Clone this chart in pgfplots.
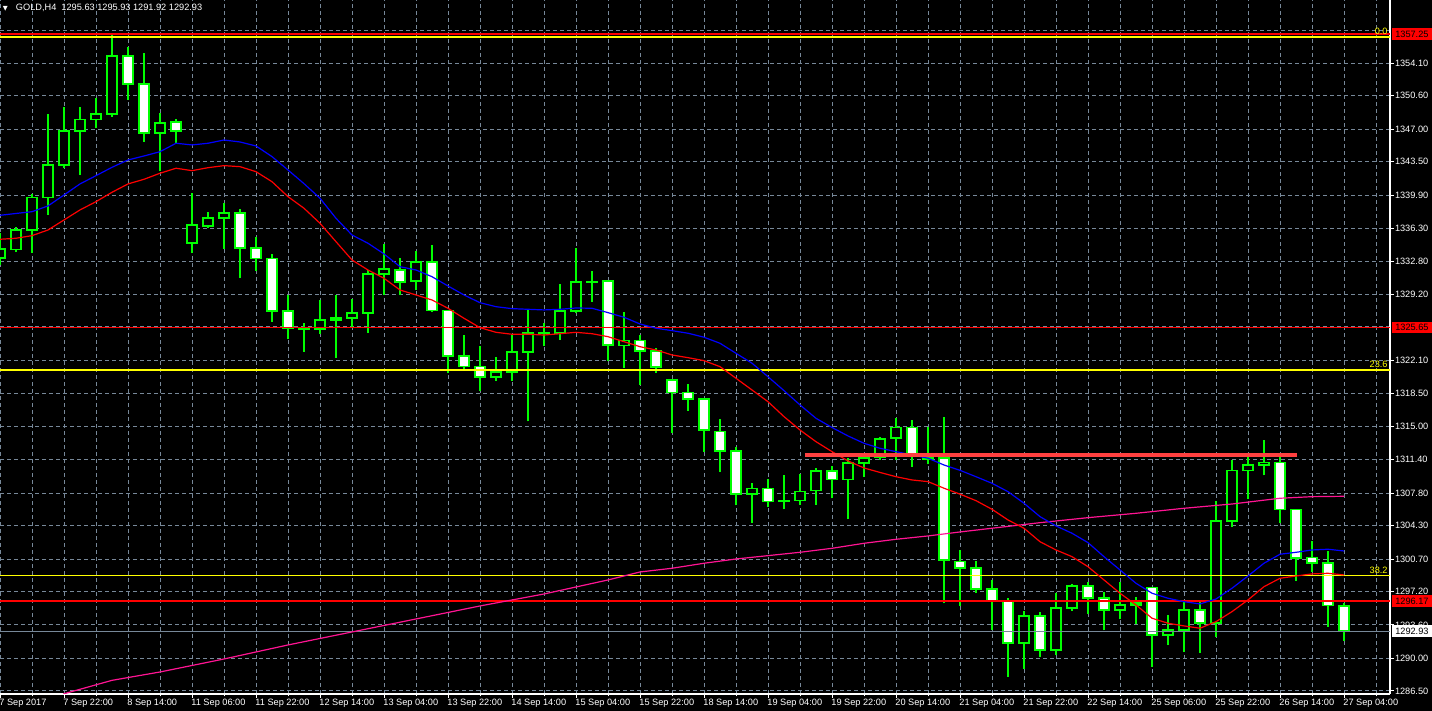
\documentclass[border=0pt]{standalone}
\usepackage{pgfplots}
\pgfplotsset{compat=1.18}
\usepackage{pgfplotstable}
\usepackage{fontspec}
\setmainfont{Liberation Sans}
\newfontfamily\djv{DejaVu Sans}
\definecolor{cgreen}{RGB}{0,255,0}
\definecolor{gridgray}{RGB}{119,136,153}
\definecolor{mapink}{RGB}{255,20,147}
\definecolor{trendred}{RGB}{255,64,64}
\definecolor{fibyellow}{RGB}{255,255,0}
\newcommand{\tickfont}{\fontsize{4.6}{5}\selectfont}

% H4 candles: bar index, open, high, low, close
\pgfplotstableread{
x o h l c
0 1333.13 1335.85 1332.34 1334.10
1 1334.02 1336.43 1333.80 1336.11
2 1336.11 1339.99 1333.66 1339.66
3 1339.66 1348.63 1337.79 1343.11
4 1343.11 1349.36 1342.79 1346.77
5 1346.77 1349.36 1342.10 1348.06
6 1348.06 1350.39 1347.16 1348.60
7 1348.60 1357.25 1348.34 1354.85
8 1354.85 1355.82 1350.14 1351.83
9 1351.83 1355.17 1345.65 1346.56
10 1346.56 1348.71 1342.50 1347.63
11 1347.74 1348.10 1345.48 1346.77
12 1334.71 1340.09 1333.63 1336.65
13 1336.60 1338.11 1336.39 1337.40
14 1337.40 1339.02 1334.13 1337.94
15 1337.94 1338.40 1331.00 1334.17
16 1334.17 1335.39 1331.73 1333.09
17 1333.09 1333.56 1326.27 1327.39
18 1327.39 1329.14 1324.37 1325.59
19 1325.56 1326.09 1323.04 1325.48
20 1325.45 1328.60 1324.94 1326.42
21 1326.42 1329.14 1322.39 1326.63
22 1326.63 1328.68 1325.56 1327.17
23 1327.17 1331.83 1325.08 1331.37
24 1331.37 1334.63 1329.14 1331.91
25 1331.80 1333.09 1329.14 1330.51
26 1330.62 1333.88 1329.71 1332.70
27 1332.70 1334.53 1327.34 1327.49
28 1327.49 1327.55 1320.71 1322.54
29 1322.54 1324.83 1321.07 1321.46
30 1321.46 1323.65 1318.84 1320.28
31 1320.28 1322.47 1319.91 1320.82
32 1320.82 1324.91 1319.91 1322.97
33 1322.97 1327.53 1315.54 1325.02
34 1324.99 1326.09 1323.68 1325.05
35 1325.02 1330.29 1324.33 1327.39
36 1327.39 1334.24 1327.17 1330.51
37 1330.52 1331.73 1328.42 1330.60
38 1330.62 1330.76 1322.03 1323.76
39 1323.72 1327.28 1321.31 1324.26
40 1324.26 1324.83 1319.45 1323.08
41 1323.08 1323.40 1320.77 1321.36
42 1319.96 1320.00 1314.25 1318.62
43 1318.66 1319.56 1316.68 1317.91
44 1317.91 1317.95 1312.27 1314.57
45 1314.46 1315.79 1310.11 1312.31
46 1312.31 1312.74 1306.49 1307.68
47 1307.68 1308.86 1304.56 1308.32
48 1308.32 1309.29 1306.34 1306.92
49 1306.95 1309.76 1306.06 1307.02
50 1306.99 1309.83 1306.53 1307.96
51 1308.07 1310.51 1306.56 1310.16
52 1310.16 1310.73 1307.25 1309.29
53 1309.29 1311.59 1304.97 1311.02
54 1311.02 1311.80 1309.57 1311.56
55 1311.66 1313.88 1311.37 1313.60
56 1313.71 1315.93 1311.37 1314.89
57 1314.89 1315.68 1310.65 1311.73
58 1311.48 1314.96 1310.91 1311.70
59 1311.56 1316.00 1295.94 1300.57
60 1300.46 1301.68 1295.63 1299.71
61 1299.71 1300.50 1297.05 1297.45
62 1297.45 1298.45 1293.07 1296.16
63 1296.16 1296.48 1288.04 1291.63
64 1291.63 1295.11 1288.90 1294.54
65 1294.54 1295.00 1290.13 1290.88
66 1290.88 1297.05 1290.34 1295.40
67 1295.40 1298.05 1295.11 1297.77
68 1297.77 1298.20 1294.82 1296.48
69 1296.48 1297.19 1293.03 1295.19
70 1295.19 1298.20 1294.22 1295.73
71 1295.94 1296.59 1293.68 1295.73
72 1297.66 1297.70 1289.05 1292.50
73 1292.50 1294.65 1291.42 1293.03
74 1293.03 1296.05 1290.73 1295.19
75 1295.19 1296.05 1290.62 1293.79
76 1293.79 1306.92 1292.28 1304.77
77 1304.77 1311.34 1304.12 1310.26
78 1310.26 1312.09 1307.14 1310.80
79 1310.80 1313.49 1309.72 1311.12
80 1311.12 1311.73 1304.56 1306.06
81 1306.06 1306.10 1298.37 1300.79
82 1300.89 1302.68 1299.34 1300.25
83 1300.25 1301.54 1293.42 1295.70
84 1295.63 1295.93 1291.92 1292.93
}\candles

% blue moving average
\pgfplotstableread{
x p
0 1337.72
1 1337.92
2 1338.11
3 1338.73
4 1339.91
5 1341.10
6 1341.99
7 1342.89
8 1343.68
9 1344.11
10 1344.57
11 1345.48
12 1345.30
13 1345.48
14 1345.83
15 1345.62
16 1345.19
17 1344.04
18 1342.60
19 1341.13
20 1339.56
21 1337.40
22 1335.60
23 1334.71
24 1333.56
25 1332.19
26 1331.83
27 1331.11
28 1330.11
29 1329.14
30 1328.31
31 1327.88
32 1327.67
33 1327.60
34 1327.53
35 1327.60
36 1327.74
37 1327.71
38 1327.24
39 1326.74
40 1326.02
41 1325.56
42 1325.30
43 1325.02
44 1324.59
45 1323.94
46 1322.86
47 1321.79
48 1320.34
49 1318.84
50 1317.30
51 1315.86
52 1314.87
53 1313.96
54 1313.17
55 1312.63
56 1312.27
57 1311.91
58 1311.56
59 1310.83
60 1310.26
61 1309.57
62 1308.86
63 1307.96
64 1306.71
65 1305.27
66 1304.27
67 1303.48
68 1302.47
69 1300.96
70 1299.53
71 1298.09
72 1297.02
73 1296.48
74 1296.11
75 1295.87
76 1296.40
77 1297.56
78 1298.88
79 1300.25
80 1301.22
81 1301.43
82 1301.68
83 1301.76
84 1301.57
}\mablue

% red moving average
\pgfplotstableread{
x p
0 1335.14
1 1335.25
2 1335.53
3 1336.14
4 1337.22
5 1338.30
6 1339.19
7 1340.20
8 1341.10
9 1341.60
10 1342.25
11 1342.79
12 1342.53
13 1342.85
14 1343.07
15 1342.96
16 1342.42
17 1341.34
18 1339.73
19 1338.48
20 1336.86
21 1334.88
22 1332.91
23 1331.83
24 1330.94
25 1329.68
26 1329.14
27 1328.60
28 1327.71
29 1326.63
30 1325.62
31 1325.12
32 1324.91
33 1324.91
34 1324.83
35 1324.97
36 1325.12
37 1324.97
38 1324.65
39 1324.11
40 1323.57
41 1323.22
42 1322.68
43 1322.39
44 1322.07
45 1321.42
46 1320.17
47 1318.91
48 1317.65
49 1316.04
50 1314.60
51 1313.34
52 1312.27
53 1311.27
54 1310.51
55 1310.03
56 1309.57
57 1309.22
58 1309.04
59 1308.33
60 1307.69
61 1306.99
62 1306.06
63 1304.91
64 1304.02
65 1302.57
66 1301.68
67 1300.96
68 1299.88
69 1298.45
70 1297.02
71 1295.76
72 1294.33
73 1293.79
74 1293.50
75 1293.25
76 1293.96
77 1295.04
78 1296.30
79 1297.73
80 1298.63
81 1298.88
82 1299.10
83 1299.17
84 1298.99
}\mared

% pink (slow) moving average
\pgfplotstableread{
x p
3.95 1286.17
7 1287.64
10 1288.54
14 1289.94
18 1291.45
22 1292.85
26 1294.25
30 1295.65
34 1296.94
38 1298.45
40 1299.31
42 1299.71
44 1300.25
46 1300.71
48 1301.07
50 1301.43
52 1301.86
54 1302.40
56 1302.83
58 1303.19
60 1303.62
62 1304.02
65 1304.62
68 1305.16
71 1305.63
74 1306.17
77 1306.63
80 1307.25
82 1307.42
84 1307.46
}\mapink

\pgfplotsset{common/.style={
  scale only axis, width=695pt, height=347pt,
  at={(0pt,8.5pt)}, anchor=south west,
  xmin=0, xmax=86.875, ymin=1286.17, ymax=1360.91,
}}
\def\yticks{1286.50,1290.00,1293.60,1297.20,1300.70,1304.30,1307.80,1311.40,1315.00,1318.50,1322.10,1325.70,1329.20,1332.80,1336.30,1339.90,1343.50,1347.00,1350.60,1354.10,1357.60}

\begin{document}
\begin{tikzpicture}
\fill[black] (0,0) rectangle (716pt,355.5pt);
\path[use as bounding box] (0,0) rectangle (716pt,355.5pt);

% layer 1: grid and wicks
\begin{axis}[common, axis line style={draw=none}, major tick length=0pt,
  xtick={0,2,...,86}, ytick=\yticks, xticklabel=\relax, yticklabel=\relax,
  grid=major, major grid style={gridgray, line width=0.5pt, dash pattern=on 2pt off 1.5pt}]
\addplot[draw=none, mark=none, error bars/.cd, y dir=plus, y explicit, error mark=none,
  error bar style={draw=cgreen, line width=0.8pt}]
  table[x=x, y=l, y error plus expr=\thisrow{h}-\thisrow{l}] {\candles};
\end{axis}

% layer 2: candle bodies
\begin{axis}[common, hide axis, ybar stacked, bar width=0.62]
\addplot[draw=none, fill=none] table[x=x, y expr={min(\thisrow{o},\thisrow{c})}] {\candles};
\addplot[draw=cgreen, line width=0.8pt, fill=black] table[x=x, y expr={max(\thisrow{c}-\thisrow{o},0)}] {\candles};
\addplot[draw=cgreen, line width=0.8pt, fill=white] table[x=x, y expr={max(\thisrow{o}-\thisrow{c},0)}] {\candles};
\end{axis}

% layer 3: indicators, levels, axes
\begin{axis}[common, clip mode=individual,
  axis x line*=bottom, axis y line*=right,
  axis line style={white, line width=0.6pt},
  tick align=outside, major tick length=1.8pt, minor tick length=1.2pt,
  tick style={white, line width=0.5pt},
  xtick={0,4,...,84}, minor xtick={2,6,...,86},
  xticklabels={7 Sep 2017,7 Sep 22:00,8 Sep 14:00,11 Sep 06:00,11 Sep 22:00,12 Sep 14:00,13 Sep 04:00,13 Sep 22:00,14 Sep 14:00,15 Sep 04:00,15 Sep 22:00,18 Sep 14:00,19 Sep 04:00,19 Sep 22:00,20 Sep 14:00,21 Sep 04:00,21 Sep 22:00,22 Sep 14:00,25 Sep 06:00,25 Sep 22:00,26 Sep 14:00,27 Sep 04:00},
  ytick={1286.50,1290.00,1293.60,1297.20,1300.70,1304.30,1307.80,1311.40,1315.00,1318.50,1322.10,1329.20,1332.80,1336.30,1339.90,1343.50,1347.00,1350.60,1354.10},
  yticklabels={1286.50,1290.00,1293.60,1297.20,1300.70,1304.30,1307.80,1311.40,1315.00,1318.50,1322.10,1329.20,1332.80,1336.30,1339.90,1343.50,1347.00,1350.60,1354.10},
  xticklabel style={anchor=north west, inner sep=0pt, xshift=-0.5pt, yshift=-0.5pt, text=white, font=\tickfont},
  yticklabel style={anchor=west, inner sep=0pt, xshift=0.5pt, text=white, font=\tickfont},
]
% horizontal levels
\addplot[red, line width=1pt] coordinates {(0,1357.25) (86.875,1357.25)};
\addplot[fibyellow, line width=0.7pt] coordinates {(0,1356.93) (86.875,1356.93)};
\addplot[red, line width=0.6pt] coordinates {(0,1325.65) (86.875,1325.65)};
\addplot[fibyellow, line width=0.7pt] coordinates {(0,1321.07) (86.875,1321.07)};
\addplot[fibyellow, line width=0.7pt] coordinates {(0,1298.90) (86.875,1298.90)};
\addplot[red, line width=0.7pt] coordinates {(0,1296.17) (86.875,1296.17)};
\addplot[gridgray, line width=0.55pt] coordinates {(0,1292.93) (86.875,1292.93)};
% moving averages
\addplot[mapink, line width=0.6pt] table[x=x, y=p] {\mapink};
\addplot[blue, line width=0.6pt] table[x=x, y=p] {\mablue};
\addplot[red, line width=0.6pt] table[x=x, y=p] {\mared};
% resistance trend line
\addplot[trendred, line width=1.75pt] coordinates {(50.3,1311.91) (81.06,1311.91)};

% fib labels
\node[anchor=south east, inner sep=0pt, text=fibyellow, font=\tickfont, xshift=-1pt, yshift=1pt] at (axis cs:86.875,1356.93) {0.0};
\node[anchor=south east, inner sep=0pt, text=fibyellow, font=\tickfont, xshift=-1pt, yshift=1pt] at (axis cs:86.875,1321.07) {23.6};
\node[anchor=south east, inner sep=0pt, text=fibyellow, font=\tickfont, xshift=-1pt, yshift=1pt] at (axis cs:86.875,1298.90) {38.2};

% price boxes
\node[anchor=west, fill=red, text=black, font=\tickfont, inner sep=0pt, minimum height=5.8pt, minimum width=20.3pt, xshift=0.6pt] at (axis cs:86.875,1357.25) {1357.25};
\node[anchor=west, fill=red, text=black, font=\tickfont, inner sep=0pt, minimum height=5.8pt, minimum width=20.3pt, xshift=0.6pt] at (axis cs:86.875,1325.65) {1325.65};
\node[anchor=west, fill=red, text=black, font=\tickfont, inner sep=0pt, minimum height=5.8pt, minimum width=20.3pt, xshift=0.6pt] at (axis cs:86.875,1296.17) {1296.17};
\node[anchor=west, fill=white, text=black, font=\tickfont, inner sep=0pt, minimum height=5.8pt, minimum width=20.3pt, xshift=0.6pt] at (axis cs:86.875,1292.93) {1292.93};

% title
\node[anchor=north west, inner sep=0pt, text=white, font={\djv\fontsize{3.2}{3.6}\selectfont}, xshift=1.3pt, yshift=-3pt] at (rel axis cs:0,1) {▼};
\node[anchor=north west, inner sep=0pt, text=white, font=\tickfont, xshift=7.8pt, yshift=-2pt] at (rel axis cs:0,1) {GOLD,H4\ \ 1295.63 1295.93 1291.92 1292.93};
\end{axis}
\end{tikzpicture}
\end{document}
